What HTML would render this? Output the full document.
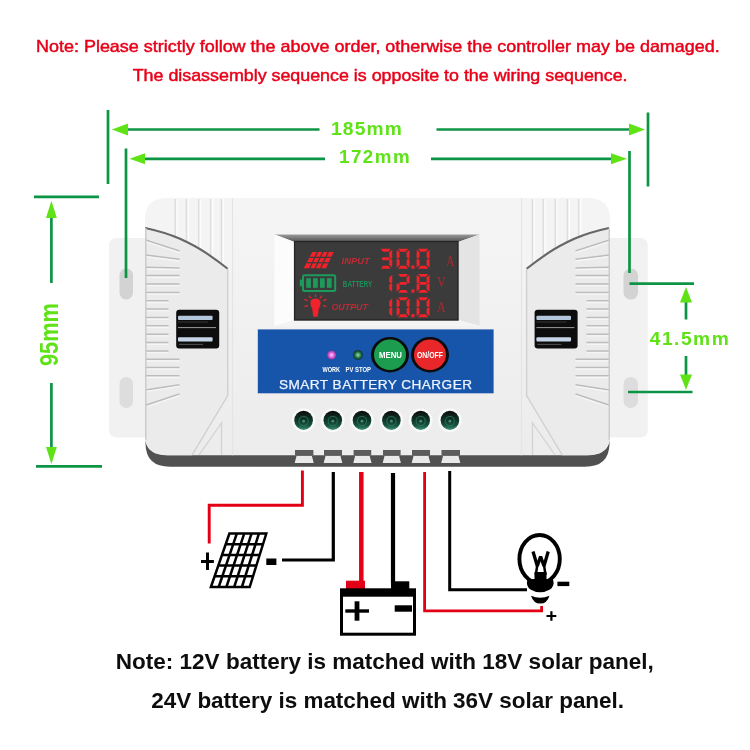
<!DOCTYPE html>
<html>
<head>
<meta charset="utf-8">
<title>Solar Charge Controller</title>
<style>
html,body{margin:0;padding:0;background:#fff;}
body{width:750px;height:750px;overflow:hidden;position:relative;font-family:"Liberation Sans",sans-serif;}
svg{position:absolute;left:0;top:0;display:block;}
text{font-family:"Liberation Sans",sans-serif;}
.ser{font-family:"Liberation Serif",serif;}
</style>
</head>
<body>
<svg width="750" height="750" viewBox="0 0 750 750">
<defs>
  <linearGradient id="bezelTop" x1="0" y1="0" x2="0" y2="1">
    <stop offset="0" stop-color="#9a9a9a"/><stop offset="1" stop-color="#505050"/>
  </linearGradient>
  <linearGradient id="bodyG" x1="0" y1="0" x2="0" y2="1">
    <stop offset="0" stop-color="#f5f5f5"/><stop offset="1" stop-color="#ececec"/>
  </linearGradient>
  <radialGradient id="term" cx="0.5" cy="0.5" r="0.5">
    <stop offset="0" stop-color="#3c8f68"/><stop offset="0.4" stop-color="#174a33"/><stop offset="1" stop-color="#13221b"/>
  </radialGradient>
  <linearGradient id="termL" x1="0" y1="0" x2="0" y2="1">
    <stop offset="0" stop-color="#080b0a"/><stop offset="0.35" stop-color="#0d2a20"/><stop offset="0.75" stop-color="#155040"/><stop offset="1" stop-color="#3f9072"/>
  </linearGradient>
  <radialGradient id="ledP" cx="0.5" cy="0.5" r="0.5">
    <stop offset="0" stop-color="#ffd0ff"/><stop offset="0.6" stop-color="#d85ad0"/><stop offset="1" stop-color="#7a3aa0"/>
  </radialGradient>
  <radialGradient id="ledG" cx="0.5" cy="0.5" r="0.5">
    <stop offset="0" stop-color="#9be0b0"/><stop offset="0.55" stop-color="#2a8050"/><stop offset="1" stop-color="#0c2a20"/>
  </radialGradient>
  <clipPath id="bodyClip"><path d="M168 198 L587 198 Q610 198 610 220 L610 436 Q610 455.300 587 455.300 L168 455.300 Q145 455.300 145 436 L145 220 Q145 198 168 198 Z"/></clipPath>
  <clipPath id="topL"><path d="M145 198 L232 198 L232 272 L227.700 268.700 Q218 261 206.700 253.300 Q195 245.500 180 238.700 Q164 232 145 228 Z"/></clipPath>
  <clipPath id="topR"><path d="M610 198 L522 198 L522 272 L526.600 268.700 Q536.300 261 547.600 253.300 Q559.300 245.500 574.300 238.700 Q590.300 232 610 228 Z"/></clipPath>
  <filter id="soft" x="-5%" y="-5%" width="110%" height="110%"><feGaussianBlur stdDeviation="0.7"/></filter>
  <filter id="soft2" x="-5%" y="-5%" width="110%" height="110%"><feGaussianBlur stdDeviation="0.45"/></filter>
  <filter id="soft3" x="-10%" y="-10%" width="120%" height="120%"><feGaussianBlur stdDeviation="0.35"/></filter>
  <!-- 7 segment digit, box 13 x 20 -->
  <g id="s_a"><path d="M1.500 0 L11.500 0 L9.300 3 L3.700 3 Z"/></g>
  <g id="s_b"><path d="M13 1 L13 9.300 L11.800 10 L10 8.600 L10 3.600 Z"/></g>
  <g id="s_c"><path d="M13 19 L13 10.700 L11.800 10 L10 11.400 L10 16.400 Z"/></g>
  <g id="s_d"><path d="M1.500 20 L11.500 20 L9.300 17 L3.700 17 Z"/></g>
  <g id="s_e"><path d="M0 19 L0 10.700 L1.200 10 L3 11.400 L3 16.400 Z"/></g>
  <g id="s_f"><path d="M0 1 L0 9.300 L1.200 10 L3 8.600 L3 3.600 Z"/></g>
  <g id="s_g"><path d="M2 10 L3.800 8.500 L9.200 8.500 L11 10 L9.200 11.500 L3.800 11.500 Z"/></g>
  <g id="d0"><use href="#s_a"/><use href="#s_b"/><use href="#s_c"/><use href="#s_d"/><use href="#s_e"/><use href="#s_f"/></g>
  <g id="d1"><use href="#s_b"/><use href="#s_c"/></g>
  <g id="d2"><use href="#s_a"/><use href="#s_b"/><use href="#s_g"/><use href="#s_e"/><use href="#s_d"/></g>
  <g id="d3"><use href="#s_a"/><use href="#s_b"/><use href="#s_g"/><use href="#s_c"/><use href="#s_d"/></g>
  <g id="d8"><use href="#s_a"/><use href="#s_b"/><use href="#s_c"/><use href="#s_d"/><use href="#s_e"/><use href="#s_f"/><use href="#s_g"/></g>
</defs>

<!-- TOP NOTE -->
<g fill="#e8001a" stroke="#e8001a" stroke-width="0.450" font-size="16" filter="url(#soft3)">
  <text transform="translate(36 51.800) scale(1.1235 1)">Note: Please strictly follow the above order, otherwise the controller may be damaged.</text>
  <text transform="translate(132.700 80.900) scale(1.1160 1)">The disassembly sequence is opposite to the wiring sequence.</text>
</g>

<!-- DEVICE -->
<g filter="url(#soft2)">
  <rect x="109" y="238" width="50" height="199.500" rx="7" fill="#f1f1f1"/>
  <rect x="597" y="238" width="50.800" height="199.500" rx="7" fill="#f1f1f1"/>
  <rect x="119.500" y="268.500" width="13.500" height="31" rx="6.700" fill="#d3d3d3"/>
  <rect x="119.500" y="377" width="13.500" height="31" rx="6.700" fill="#dddddd"/>
  <rect x="623.500" y="268.500" width="14.500" height="31" rx="7.200" fill="#d3d3d3"/>
  <rect x="623.500" y="377" width="14.500" height="31" rx="7.200" fill="#dddddd"/>
  <path d="M145.500 425 L145.500 444 Q146 466.700 170 466.700 L585 466.700 Q609 466.700 609.500 444 L609.500 425 Z" fill="#515151"/>
  <path d="M168 198 L587 198 Q610 198 610 220 L610 436 Q610 455.300 587 455.300 L168 455.300 Q145 455.300 145 436 L145 220 Q145 198 168 198 Z" fill="url(#bodyG)"/>
  <g clip-path="url(#bodyClip)">
    <path d="M145 228 Q164 232 180 238.700 Q195 245.500 206.700 253.300 Q218 261 227.700 268.700 L227.700 395.500 L191.500 456 L145 456 Z" fill="#ebebeb"/>
    <path d="M609 228 Q590.300 232 574.300 238.700 Q559.300 245.500 547.600 253.300 Q536.300 261 526.600 268.700 L526.600 395.500 L562.800 456 L610 456 Z" fill="#ebebeb"/>
    <g clip-path="url(#topL)"><rect x="145" y="198" width="90" height="80" fill="#f4f4f4"/>
<line x1="175.3" y1="199" x2="175.3" y2="275" stroke="#dedede" stroke-width="1.600"/>
<line x1="177.1" y1="199" x2="177.1" y2="275" stroke="#fcfcfc" stroke-width="1.400"/>
<line x1="186.5" y1="199" x2="186.5" y2="275" stroke="#dedede" stroke-width="1.600"/>
<line x1="188.3" y1="199" x2="188.3" y2="275" stroke="#fcfcfc" stroke-width="1.400"/>
<line x1="198.7" y1="199" x2="198.7" y2="275" stroke="#dedede" stroke-width="1.600"/>
<line x1="200.5" y1="199" x2="200.5" y2="275" stroke="#fcfcfc" stroke-width="1.400"/>
<line x1="210.7" y1="199" x2="210.7" y2="275" stroke="#dedede" stroke-width="1.600"/>
<line x1="212.5" y1="199" x2="212.5" y2="275" stroke="#fcfcfc" stroke-width="1.400"/>
<line x1="221.5" y1="199" x2="221.5" y2="275" stroke="#dedede" stroke-width="1.600"/>
<line x1="223.3" y1="199" x2="223.3" y2="275" stroke="#fcfcfc" stroke-width="1.400"/>
    </g>
    <g clip-path="url(#topR)"><rect x="520" y="198" width="90" height="80" fill="#f4f4f4"/>
<line x1="578.7" y1="199" x2="578.7" y2="275" stroke="#dedede" stroke-width="1.600"/>
<line x1="580.5" y1="199" x2="580.5" y2="275" stroke="#fcfcfc" stroke-width="1.400"/>
<line x1="567.5" y1="199" x2="567.5" y2="275" stroke="#dedede" stroke-width="1.600"/>
<line x1="569.3" y1="199" x2="569.3" y2="275" stroke="#fcfcfc" stroke-width="1.400"/>
<line x1="555.3" y1="199" x2="555.3" y2="275" stroke="#dedede" stroke-width="1.600"/>
<line x1="557.1" y1="199" x2="557.1" y2="275" stroke="#fcfcfc" stroke-width="1.400"/>
<line x1="543.3" y1="199" x2="543.3" y2="275" stroke="#dedede" stroke-width="1.600"/>
<line x1="545.1" y1="199" x2="545.1" y2="275" stroke="#fcfcfc" stroke-width="1.400"/>
<line x1="532.5" y1="199" x2="532.5" y2="275" stroke="#dedede" stroke-width="1.600"/>
<line x1="534.3" y1="199" x2="534.3" y2="275" stroke="#fcfcfc" stroke-width="1.400"/>
    </g>
<line x1="145.5" y1="240.0" x2="179.5" y2="251.0" stroke="#bcbcbc" stroke-width="1.500"/>
<line x1="145.5" y1="241.7" x2="179.5" y2="252.7" stroke="#f6f6f6" stroke-width="1.300"/>
<line x1="145.5" y1="255.0" x2="179.5" y2="259.3" stroke="#bcbcbc" stroke-width="1.500"/>
<line x1="145.5" y1="256.7" x2="179.5" y2="261.0" stroke="#f6f6f6" stroke-width="1.300"/>
<line x1="145.5" y1="267.3" x2="179.5" y2="268.0" stroke="#bcbcbc" stroke-width="1.500"/>
<line x1="145.5" y1="269.0" x2="179.5" y2="269.7" stroke="#f6f6f6" stroke-width="1.300"/>
<line x1="145.5" y1="275.6" x2="179.5" y2="275.6" stroke="#bcbcbc" stroke-width="1.500"/>
<line x1="145.5" y1="277.3" x2="179.5" y2="277.3" stroke="#f6f6f6" stroke-width="1.300"/>
<line x1="145.5" y1="284.0" x2="179.5" y2="284.0" stroke="#bcbcbc" stroke-width="1.500"/>
<line x1="145.5" y1="285.7" x2="179.5" y2="285.7" stroke="#f6f6f6" stroke-width="1.300"/>
<line x1="145.5" y1="292.5" x2="179.5" y2="292.5" stroke="#bcbcbc" stroke-width="1.500"/>
<line x1="145.5" y1="294.2" x2="179.5" y2="294.2" stroke="#f6f6f6" stroke-width="1.300"/>
<line x1="145.5" y1="300.8" x2="168.5" y2="300.8" stroke="#bcbcbc" stroke-width="1.500"/>
<line x1="145.5" y1="302.5" x2="168.5" y2="302.5" stroke="#f6f6f6" stroke-width="1.300"/>
<line x1="145.5" y1="309.0" x2="168.5" y2="309.0" stroke="#bcbcbc" stroke-width="1.500"/>
<line x1="145.5" y1="310.7" x2="168.5" y2="310.7" stroke="#f6f6f6" stroke-width="1.300"/>
<line x1="145.5" y1="317.4" x2="168.5" y2="317.4" stroke="#bcbcbc" stroke-width="1.500"/>
<line x1="145.5" y1="319.1" x2="168.5" y2="319.1" stroke="#f6f6f6" stroke-width="1.300"/>
<line x1="145.5" y1="325.8" x2="168.5" y2="325.8" stroke="#bcbcbc" stroke-width="1.500"/>
<line x1="145.5" y1="327.5" x2="168.5" y2="327.5" stroke="#f6f6f6" stroke-width="1.300"/>
<line x1="145.5" y1="334.2" x2="168.5" y2="334.2" stroke="#bcbcbc" stroke-width="1.500"/>
<line x1="145.5" y1="335.9" x2="168.5" y2="335.9" stroke="#f6f6f6" stroke-width="1.300"/>
<line x1="145.5" y1="342.6" x2="168.5" y2="342.6" stroke="#bcbcbc" stroke-width="1.500"/>
<line x1="145.5" y1="344.3" x2="168.5" y2="344.3" stroke="#f6f6f6" stroke-width="1.300"/>
<line x1="145.5" y1="351.0" x2="168.5" y2="351.0" stroke="#bcbcbc" stroke-width="1.500"/>
<line x1="145.5" y1="352.7" x2="168.5" y2="352.7" stroke="#f6f6f6" stroke-width="1.300"/>
<line x1="145.5" y1="359.3" x2="179.5" y2="359.3" stroke="#bcbcbc" stroke-width="1.500"/>
<line x1="145.5" y1="361.0" x2="179.5" y2="361.0" stroke="#f6f6f6" stroke-width="1.300"/>
<line x1="145.5" y1="367.5" x2="179.5" y2="367.5" stroke="#bcbcbc" stroke-width="1.500"/>
<line x1="145.5" y1="369.2" x2="179.5" y2="369.2" stroke="#f6f6f6" stroke-width="1.300"/>
<line x1="145.5" y1="375.8" x2="179.5" y2="375.8" stroke="#bcbcbc" stroke-width="1.500"/>
<line x1="145.5" y1="377.5" x2="179.5" y2="377.5" stroke="#f6f6f6" stroke-width="1.300"/>
<line x1="145.5" y1="390.0" x2="179.5" y2="384.7" stroke="#bcbcbc" stroke-width="1.500"/>
<line x1="145.5" y1="391.7" x2="179.5" y2="386.4" stroke="#f6f6f6" stroke-width="1.300"/>
<line x1="145.5" y1="405.3" x2="179.5" y2="394.0" stroke="#bcbcbc" stroke-width="1.500"/>
<line x1="145.5" y1="407.0" x2="179.5" y2="395.7" stroke="#f6f6f6" stroke-width="1.300"/>
<line x1="609.5" y1="240.0" x2="575.5" y2="251.0" stroke="#bcbcbc" stroke-width="1.500"/>
<line x1="609.5" y1="241.7" x2="575.5" y2="252.7" stroke="#f6f6f6" stroke-width="1.300"/>
<line x1="609.5" y1="255.0" x2="575.5" y2="259.3" stroke="#bcbcbc" stroke-width="1.500"/>
<line x1="609.5" y1="256.7" x2="575.5" y2="261.0" stroke="#f6f6f6" stroke-width="1.300"/>
<line x1="609.5" y1="267.3" x2="575.5" y2="268.0" stroke="#bcbcbc" stroke-width="1.500"/>
<line x1="609.5" y1="269.0" x2="575.5" y2="269.7" stroke="#f6f6f6" stroke-width="1.300"/>
<line x1="609.5" y1="275.6" x2="575.5" y2="275.6" stroke="#bcbcbc" stroke-width="1.500"/>
<line x1="609.5" y1="277.3" x2="575.5" y2="277.3" stroke="#f6f6f6" stroke-width="1.300"/>
<line x1="609.5" y1="284.0" x2="575.5" y2="284.0" stroke="#bcbcbc" stroke-width="1.500"/>
<line x1="609.5" y1="285.7" x2="575.5" y2="285.7" stroke="#f6f6f6" stroke-width="1.300"/>
<line x1="609.5" y1="292.5" x2="575.5" y2="292.5" stroke="#bcbcbc" stroke-width="1.500"/>
<line x1="609.5" y1="294.2" x2="575.5" y2="294.2" stroke="#f6f6f6" stroke-width="1.300"/>
<line x1="609.5" y1="300.8" x2="586.5" y2="300.8" stroke="#bcbcbc" stroke-width="1.500"/>
<line x1="609.5" y1="302.5" x2="586.5" y2="302.5" stroke="#f6f6f6" stroke-width="1.300"/>
<line x1="609.5" y1="309.0" x2="586.5" y2="309.0" stroke="#bcbcbc" stroke-width="1.500"/>
<line x1="609.5" y1="310.7" x2="586.5" y2="310.7" stroke="#f6f6f6" stroke-width="1.300"/>
<line x1="609.5" y1="317.4" x2="586.5" y2="317.4" stroke="#bcbcbc" stroke-width="1.500"/>
<line x1="609.5" y1="319.1" x2="586.5" y2="319.1" stroke="#f6f6f6" stroke-width="1.300"/>
<line x1="609.5" y1="325.8" x2="586.5" y2="325.8" stroke="#bcbcbc" stroke-width="1.500"/>
<line x1="609.5" y1="327.5" x2="586.5" y2="327.5" stroke="#f6f6f6" stroke-width="1.300"/>
<line x1="609.5" y1="334.2" x2="586.5" y2="334.2" stroke="#bcbcbc" stroke-width="1.500"/>
<line x1="609.5" y1="335.9" x2="586.5" y2="335.9" stroke="#f6f6f6" stroke-width="1.300"/>
<line x1="609.5" y1="342.6" x2="586.5" y2="342.6" stroke="#bcbcbc" stroke-width="1.500"/>
<line x1="609.5" y1="344.3" x2="586.5" y2="344.3" stroke="#f6f6f6" stroke-width="1.300"/>
<line x1="609.5" y1="351.0" x2="586.5" y2="351.0" stroke="#bcbcbc" stroke-width="1.500"/>
<line x1="609.5" y1="352.7" x2="586.5" y2="352.7" stroke="#f6f6f6" stroke-width="1.300"/>
<line x1="609.5" y1="359.3" x2="575.5" y2="359.3" stroke="#bcbcbc" stroke-width="1.500"/>
<line x1="609.5" y1="361.0" x2="575.5" y2="361.0" stroke="#f6f6f6" stroke-width="1.300"/>
<line x1="609.5" y1="367.5" x2="575.5" y2="367.5" stroke="#bcbcbc" stroke-width="1.500"/>
<line x1="609.5" y1="369.2" x2="575.5" y2="369.2" stroke="#f6f6f6" stroke-width="1.300"/>
<line x1="609.5" y1="375.8" x2="575.5" y2="375.8" stroke="#bcbcbc" stroke-width="1.500"/>
<line x1="609.5" y1="377.5" x2="575.5" y2="377.5" stroke="#f6f6f6" stroke-width="1.300"/>
<line x1="609.5" y1="390.0" x2="575.5" y2="384.7" stroke="#bcbcbc" stroke-width="1.500"/>
<line x1="609.5" y1="391.7" x2="575.5" y2="386.4" stroke="#f6f6f6" stroke-width="1.300"/>
<line x1="609.5" y1="405.3" x2="575.5" y2="394.0" stroke="#bcbcbc" stroke-width="1.500"/>
<line x1="609.5" y1="407.0" x2="575.5" y2="395.7" stroke="#f6f6f6" stroke-width="1.300"/>
    <path d="M145 228 Q164 232 180 238.700 Q195 245.500 206.700 253.300 Q218 261 227.700 268.700" fill="none" stroke="#666" stroke-width="2.100"/>
    <path d="M609 228 Q590.300 232 574.300 238.700 Q559.300 245.500 547.600 253.300 Q536.300 261 526.600 268.700" fill="none" stroke="#666" stroke-width="2.100"/>
    <path d="M227.700 268.700 L227.700 395.500 L191.500 456" fill="none" stroke="#d0d0d0" stroke-width="1.400"/>
    <path d="M526.600 268.700 L526.600 395.500 L562.800 456" fill="none" stroke="#d0d0d0" stroke-width="1.400"/>
    <path d="M221.500 455 L221.500 423 L199 455" fill="none" stroke="#d2d2d2" stroke-width="1.3"/>
    <path d="M532.500 455 L532.500 423 L555 455" fill="none" stroke="#d2d2d2" stroke-width="1.3"/>
    <line x1="145.600" y1="228" x2="145.600" y2="440" stroke="#cbcbcb" stroke-width="1.800"/>
    <line x1="609.400" y1="228" x2="609.400" y2="440" stroke="#cbcbcb" stroke-width="1.800"/>
    <line x1="232.500" y1="198" x2="232.500" y2="456" stroke="#e4e4e4" stroke-width="1.200"/>
    <line x1="521.500" y1="198" x2="521.500" y2="456" stroke="#e4e4e4" stroke-width="1.200"/>
  </g>

  <rect x="176.2" y="309.800" width="43" height="38.800" rx="3" fill="#0d0d0d"/>
  <rect x="178.0" y="315.800" width="34.600" height="4.100" rx="1" fill="#b4c6dc"/>
  <rect x="178.0" y="321.500" width="30" height="1" fill="#3c3c3c"/>
  <rect x="178.0" y="327.100" width="38" height="1" fill="#9a9a9a"/>
  <rect x="178.0" y="337.300" width="34.600" height="4.300" rx="1" fill="#c6d5e8"/>
  <rect x="179.0" y="343.800" width="24" height="1.200" fill="#4a4a44"/>
  <rect x="534.6" y="309.800" width="43" height="38.800" rx="3" fill="#0d0d0d"/>
  <rect x="536.4" y="315.800" width="34.600" height="4.100" rx="1" fill="#b4c6dc"/>
  <rect x="536.4" y="321.500" width="30" height="1" fill="#3c3c3c"/>
  <rect x="536.4" y="327.100" width="38" height="1" fill="#9a9a9a"/>
  <rect x="536.4" y="337.300" width="34.600" height="4.300" rx="1" fill="#c6d5e8"/>
  <rect x="537.4" y="343.800" width="24" height="1.200" fill="#4a4a44"/>
  <!-- display bezel -->
  <path d="M274.600 234.600 L479.600 234.600 L479.600 325.800 L274.300 325.800 Z" fill="#f7f7f7"/>
  <path d="M274.600 234.600 L479.600 234.600 L458 242 L294.600 242 Z" fill="url(#bezelTop)"/>
  <path d="M274.600 234.600 L294.600 242 L294.600 320 L274.300 325.800 Z" fill="#fcfcfc"/>
  <path d="M479.600 234.600 L458 242 L458 320 L479.600 325.800 Z" fill="#e4e4e4"/>
  <path d="M274.300 325.800 L294.600 320 L458 320 L479.600 325.800 Z" fill="#f4f4f4"/>
  <rect x="294.600" y="241.600" width="163.400" height="78.400" fill="#3b3b3b"/>
  <rect x="294.600" y="241.600" width="163.400" height="78.400" fill="none" stroke="#262626" stroke-width="1.400"/>

<g id="lcd" filter="url(#soft3)">
<use href="#d3" transform="translate(379.2 248.7) scale(1 1.000)" fill="#f0202a"/>
<use href="#d0" transform="translate(396.6 248.7) scale(1 1.000)" fill="#f0202a"/>
<rect x="411.300" y="265.5" width="3.200" height="3.200" fill="#f0202a"/>
<use href="#d0" transform="translate(416.6 248.7) scale(1 1.000)" fill="#f0202a"/>
<use href="#d1" transform="translate(379.2 274.0) scale(1 0.935)" fill="#f0202a"/>
<use href="#d2" transform="translate(396.6 274.0) scale(1 0.935)" fill="#f0202a"/>
<rect x="411.300" y="289.5" width="3.200" height="3.200" fill="#f0202a"/>
<use href="#d8" transform="translate(416.6 274.0) scale(1 0.935)" fill="#f0202a"/>
<use href="#d1" transform="translate(379.2 297.3) scale(1 1.000)" fill="#f0202a"/>
<use href="#d0" transform="translate(396.6 297.3) scale(1 1.000)" fill="#f0202a"/>
<rect x="411.300" y="314.1" width="3.200" height="3.200" fill="#f0202a"/>
<use href="#d0" transform="translate(416.6 297.3) scale(1 1.000)" fill="#f0202a"/>
<text class="ser" x="446.300" y="266" font-size="14.500" fill="#b02630" textLength="8.200" lengthAdjust="spacingAndGlyphs">A</text>
<text class="ser" x="437" y="287.400" font-size="15" fill="#b02630" textLength="8.600" lengthAdjust="spacingAndGlyphs">V</text>
<text class="ser" x="437" y="312" font-size="14.500" fill="#b02630" textLength="8.600" lengthAdjust="spacingAndGlyphs">A</text>
<text x="341.600" y="264.100" font-size="9.600" font-weight="bold" font-style="italic" fill="#bd2a34" textLength="28.200" lengthAdjust="spacingAndGlyphs">INPUT</text>
<text x="342.800" y="287" font-size="9.600" font-weight="bold" fill="#1f8f59" textLength="29.400" lengthAdjust="spacingAndGlyphs">BATTERY</text>
<text x="331.400" y="310.100" font-size="9.600" font-weight="bold" font-style="italic" fill="#bd2a34" textLength="36.600" lengthAdjust="spacingAndGlyphs">OUTPUT</text>

<path d="M312.200 252 L333.800 252 L326 268.200 L303.800 268.200 Z" fill="#f0202a"/>
<g stroke="#3b3b3b" stroke-width="1.200">
<line x1="309.400" y1="257.400" x2="331.500" y2="257.400"/><line x1="306.600" y1="262.800" x2="329" y2="262.800"/>
<line x1="317.600" y1="251.500" x2="309.400" y2="268.700"/><line x1="323" y1="251.500" x2="314.900" y2="268.700"/><line x1="328.400" y1="251.500" x2="320.400" y2="268.700"/>
</g>
<rect x="303" y="275.200" width="32.200" height="15.700" rx="1.500" fill="none" stroke="#1f9a5c" stroke-width="2"/>
<rect x="299.800" y="279.600" width="3" height="6.600" fill="#1f9a5c"/>
<g fill="#1f9a5c"><rect x="306.200" y="278.200" width="4.700" height="9.600"/><rect x="313.100" y="278.200" width="4.700" height="9.600"/><rect x="320" y="278.200" width="4.700" height="9.600"/><rect x="326.900" y="278.200" width="4.700" height="9.600"/></g>
<g fill="#f0202a" stroke="none">
<path d="M310.400 303 Q310.400 298.600 315.500 298.600 Q320.600 298.600 320.600 303 Q320.600 306 318.800 308.500 L317.800 316.800 L313.200 316.800 L312.200 308.500 Q310.400 306 310.400 303 Z"/>
</g>
<g stroke="#f0202a" stroke-width="1.200">
<line x1="315.500" y1="294.400" x2="315.500" y2="297"/><line x1="309" y1="295.600" x2="311" y2="298.200"/><line x1="322" y1="295.600" x2="320" y2="298.200"/>
<line x1="304.400" y1="299.400" x2="308" y2="300.800"/><line x1="326.600" y1="299.400" x2="323" y2="300.800"/><line x1="304.600" y1="306.600" x2="308" y2="305.400"/><line x1="326.400" y1="306.600" x2="323" y2="305.400"/>
</g>
</g>
<!-- blue panel -->
<rect x="257.800" y="329.400" width="235.800" height="63.900" fill="#1655aa"/>
<circle cx="331.600" cy="355" r="4.600" fill="url(#ledP)"/>
<circle cx="358" cy="355" r="4.800" fill="url(#ledG)"/>
<ellipse cx="390" cy="354.700" rx="19" ry="17.700" fill="#0d0d0d"/>
<ellipse cx="390" cy="354.700" rx="16" ry="15.200" fill="#1d9c50"/>
<ellipse cx="430" cy="354.700" rx="19" ry="17.700" fill="#0d0d0d"/>
<ellipse cx="430" cy="354.700" rx="16" ry="15.200" fill="#e9262b"/>
<text x="379" y="358" font-size="9.500" font-weight="bold" fill="#fff" textLength="23" lengthAdjust="spacingAndGlyphs">MENU</text>
<text x="417" y="358" font-size="9.500" font-weight="bold" fill="#fff" textLength="26" lengthAdjust="spacingAndGlyphs">ON/OFF</text>
<text x="322.400" y="372.400" font-size="7.600" font-weight="bold" fill="#fff" textLength="17.600" lengthAdjust="spacingAndGlyphs">WORK</text>
<text x="345.600" y="372.400" font-size="7.600" font-weight="bold" fill="#fff" textLength="25.400" lengthAdjust="spacingAndGlyphs">PV STOP</text>
<text x="279" y="389.300" font-size="13.600" fill="#eef4ff" stroke="#eef4ff" stroke-width="0.250" textLength="193" lengthAdjust="spacing">SMART BATTERY CHARGER</text>

<circle cx="303.6" cy="420.300" r="11.800" fill="#f9f9f9"/><ellipse cx="303.6" cy="420.300" rx="9.300" ry="9.600" fill="url(#termL)"/><circle cx="303.6" cy="421" r="4.600" fill="none" stroke="#2d7358" stroke-width="1.100" opacity="0.800"/><circle cx="303.6" cy="421.200" r="1.400" fill="#3f8f6e"/>
<circle cx="332.8" cy="420.300" r="11.800" fill="#f9f9f9"/><ellipse cx="332.8" cy="420.300" rx="9.300" ry="9.600" fill="url(#termL)"/><circle cx="332.8" cy="421" r="4.600" fill="none" stroke="#2d7358" stroke-width="1.100" opacity="0.800"/><circle cx="332.8" cy="421.200" r="1.400" fill="#3f8f6e"/>
<circle cx="362.0" cy="420.300" r="11.800" fill="#f9f9f9"/><ellipse cx="362.0" cy="420.300" rx="9.300" ry="9.600" fill="url(#termL)"/><circle cx="362.0" cy="421" r="4.600" fill="none" stroke="#2d7358" stroke-width="1.100" opacity="0.800"/><circle cx="362.0" cy="421.200" r="1.400" fill="#3f8f6e"/>
<circle cx="391.4" cy="420.300" r="11.800" fill="#f9f9f9"/><ellipse cx="391.4" cy="420.300" rx="9.300" ry="9.600" fill="url(#termL)"/><circle cx="391.4" cy="421" r="4.600" fill="none" stroke="#2d7358" stroke-width="1.100" opacity="0.800"/><circle cx="391.4" cy="421.200" r="1.400" fill="#3f8f6e"/>
<circle cx="420.7" cy="420.300" r="11.800" fill="#f9f9f9"/><ellipse cx="420.7" cy="420.300" rx="9.300" ry="9.600" fill="url(#termL)"/><circle cx="420.7" cy="421" r="4.600" fill="none" stroke="#2d7358" stroke-width="1.100" opacity="0.800"/><circle cx="420.7" cy="421.200" r="1.400" fill="#3f8f6e"/>
<circle cx="449.9" cy="420.300" r="11.800" fill="#f9f9f9"/><ellipse cx="449.9" cy="420.300" rx="9.300" ry="9.600" fill="url(#termL)"/><circle cx="449.9" cy="421" r="4.600" fill="none" stroke="#2d7358" stroke-width="1.100" opacity="0.800"/><circle cx="449.9" cy="421.200" r="1.400" fill="#3f8f6e"/>
<rect x="295" y="450" width="18.4" height="5.500" fill="#5c5c5c"/>
<path d="M296.5 456 L311.9 456 L313.7 463 L294.7 463 Z" fill="#e9e9e9"/>
<rect x="324" y="450" width="18.0" height="5.500" fill="#5c5c5c"/>
<path d="M325.5 456 L340.5 456 L342.3 463 L323.7 463 Z" fill="#e9e9e9"/>
<rect x="353.6" y="450" width="17.6" height="5.500" fill="#5c5c5c"/>
<path d="M355.1 456 L369.7 456 L371.5 463 L353.3 463 Z" fill="#e9e9e9"/>
<rect x="383" y="450" width="17.6" height="5.500" fill="#5c5c5c"/>
<path d="M384.5 456 L399.1 456 L400.90000000000003 463 L382.7 463 Z" fill="#e9e9e9"/>
<rect x="412" y="450" width="18.0" height="5.500" fill="#5c5c5c"/>
<path d="M413.5 456 L428.5 456 L430.3 463 L411.7 463 Z" fill="#e9e9e9"/>
<rect x="441.5" y="450" width="18.5" height="5.500" fill="#5c5c5c"/>
<path d="M443.0 456 L458.5 456 L460.3 463 L441.2 463 Z" fill="#e9e9e9"/>
</g>
<!-- DIMENSIONS -->
<g filter="url(#soft3)">
<g stroke="#0b9444" stroke-width="2.700" fill="none">
  <line x1="108" y1="110" x2="108" y2="184"/>
  <line x1="648" y1="112.500" x2="648" y2="186.500"/>
  <line x1="126" y1="148.500" x2="126" y2="278"/>
  <line x1="629.500" y1="151" x2="629.500" y2="273"/>
  <line x1="126" y1="129.500" x2="319.500" y2="129.500"/>
  <line x1="436.500" y1="129.500" x2="632" y2="129.500"/>
  <line x1="144" y1="158.800" x2="325" y2="158.800"/>
  <line x1="431" y1="158.800" x2="614" y2="158.800"/>
  <line x1="34" y1="196.800" x2="99" y2="196.800"/>
  <line x1="36" y1="466.400" x2="102" y2="466.400"/>
  <line x1="51.400" y1="216" x2="51.400" y2="283"/>
  <line x1="51.400" y1="383" x2="51.400" y2="449"/>
  <line x1="629.500" y1="283.600" x2="694" y2="283.600"/>
  <line x1="628" y1="392" x2="692.500" y2="392"/>
  <line x1="686" y1="301" x2="686" y2="319.500"/>
  <line x1="686" y1="356" x2="686" y2="376"/>
</g>
<g fill="#5ee318">
  <path d="M111.800 129.500 L128 123.500 L128 135.500 Z"/>
  <path d="M645 129.500 L629 123.500 L629 135.500 Z"/>
  <path d="M129.500 158.800 L145 153.300 L145 164.300 Z"/>
  <path d="M627 158.800 L611 153.300 L611 164.300 Z"/>
  <path d="M51.400 200.800 L46 218 L56.800 218 Z"/>
  <path d="M51.400 464 L46 447 L56.800 447 Z"/>
  <path d="M686 287 L680 302.500 L692 302.500 Z"/>
  <path d="M686 389.700 L680 374.500 L692 374.500 Z"/>
</g>
<g fill="#5ee318" font-weight="bold">
  <text x="331" y="135.400" font-size="19.200" textLength="70.800" lengthAdjust="spacing">185mm</text>
  <text x="339" y="163.300" font-size="18.800" textLength="70.600" lengthAdjust="spacing">172mm</text>
  <text x="649.700" y="345.200" font-size="19.200" textLength="79" lengthAdjust="spacing">41.5mm</text>
  <text transform="translate(58.300 366) rotate(-90) scale(1 1.16)" font-size="21.800">95mm</text>
</g>
</g>

<!-- WIRING -->
<g filter="url(#soft3)">
<g fill="none" stroke="#e30613">
  <path d="M302.400 470.500 L302.400 505.200 L209.200 505.200 L209.200 543.600" stroke-width="2.900"/>
  <line x1="361.300" y1="472" x2="361.300" y2="583" stroke-width="4.500"/>
  <path d="M424.600 472 L424.600 610.800 L541.600 610.800 L541.600 606" stroke-width="2.800"/>
</g>
<g fill="none" stroke="#000">
  <path d="M333.300 472 L333.300 560 L282 560" stroke-width="3.200"/>
  <line x1="393" y1="473" x2="393" y2="583" stroke-width="4.200"/>
  <path d="M449.700 471 L449.700 589.700 L527 589.700" stroke-width="3"/>
</g>
<!-- solar panel -->
<g fill="none" stroke="#000" stroke-width="2.500">
  <path d="M229.400 533.600 L266.300 533.600 L249.700 587 L210.900 587 Z"/>

  <line x1="236.8" y1="533.6" x2="218.7" y2="587.0"/>
  <line x1="244.2" y1="533.6" x2="226.4" y2="587.0"/>
  <line x1="251.5" y1="533.6" x2="234.2" y2="587.0"/>
  <line x1="258.9" y1="533.6" x2="241.9" y2="587.0"/>
  <line x1="225.7" y1="544.3" x2="263.0" y2="544.3"/>
  <line x1="222.0" y1="555.0" x2="259.7" y2="555.0"/>
  <line x1="218.3" y1="565.6" x2="256.3" y2="565.6"/>
  <line x1="214.6" y1="576.3" x2="253.0" y2="576.3"/>
</g>
<!-- plus / minus solar -->
<path d="M201 561.500 L213.900 561.500 M207.500 552.600 L207.500 570" stroke="#000" stroke-width="3" fill="none"/>
<rect x="266.300" y="558.500" width="10.100" height="6.500" fill="#000"/>
<!-- battery -->
<rect x="346" y="580.700" width="19" height="9" fill="#e30613"/>
<rect x="391" y="581.300" width="18.300" height="8.500" fill="#000"/>
<rect x="341.500" y="593" width="73" height="41.200" fill="#fff" stroke="#000" stroke-width="3"/>
<rect x="340" y="588.300" width="76" height="8.400" fill="#000"/>
<path d="M345.300 611 L369 611" stroke="#000" stroke-width="3.400" fill="none"/>
<path d="M357 601.300 L357 620.700" stroke="#000" stroke-width="4.800" fill="none"/>
<rect x="394.700" y="605.300" width="17.300" height="6.400" fill="#000"/>
<!-- bulb -->
<ellipse cx="539.600" cy="559" rx="20.200" ry="24" fill="#fff" stroke="#000" stroke-width="3.900"/>
<path d="M534.500 572 L546.500 572 L546.500 579 L553 579.500 Q555 586 550 589.500 Q545 592.300 540.300 592.300 Q535 592.300 530.500 589.500 Q525.500 586 527.500 579.500 L534.500 579 Z" fill="#000"/>
<path d="M531 595.700 Q540.300 599.700 549.500 595.700 Q547 603.600 540.300 603.600 Q533.500 603.600 531 595.700 Z" fill="#000"/>
<path d="M533 551.500 L537.300 566 L540.600 556.500 L544 566 L548.200 551.500" fill="none" stroke="#000" stroke-width="3.300" stroke-linejoin="bevel"/>
<path d="M537.300 565 L535.800 575 M544 565 L545.500 575" fill="none" stroke="#000" stroke-width="2.500"/>
<rect x="557.400" y="581.700" width="11.900" height="4.400" fill="#000"/>
<path d="M546.500 616 L556.300 616 M551.400 611.200 L551.400 620.800" stroke="#000" stroke-width="2.200" fill="none"/>
</g>

<!-- BOTTOM NOTE -->
<g fill="#0c0c0c" font-weight="bold" font-size="22" filter="url(#soft3)">
  <text transform="translate(115.800 668.500) scale(1.0238 1)">Note: 12V battery is matched with 18V solar panel,</text>
  <text transform="translate(151.200 707.500) scale(1.0210 1)">24V battery is matched with 36V solar panel.</text>
</g>

</svg>
</body>
</html>
